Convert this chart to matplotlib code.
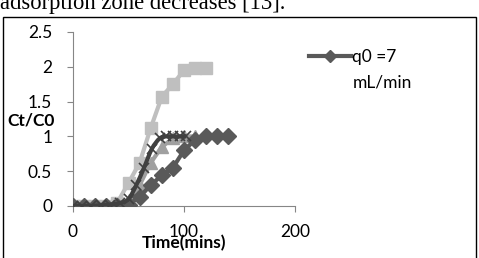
import matplotlib.pyplot as plt
import numpy as np
from matplotlib.patches import Rectangle, PathPatch
from matplotlib.path import Path

# series
t_diamond = [0, 10, 20, 30, 40, 50, 60, 70, 80, 90, 100, 110, 120, 130, 140]
c_diamond = [0, 0, 0, 0, 0, 0.02, 0.13, 0.3, 0.44, 0.55, 0.8, 0.95, 1.0, 1.0, 1.0]

t_square = [0, 10, 20, 30, 40, 50, 60, 70, 80, 90, 100, 110, 120]
c_square = [0, 0, 0, 0, 0.05, 0.33, 0.62, 1.12, 1.57, 1.75, 1.95, 1.98, 1.98]

t_tri = [0, 10, 20, 30, 40, 50, 60, 70, 80, 90, 100, 110]
c_tri = [0, 0, 0, 0, 0.02, 0.08, 0.3, 0.62, 0.85, 0.97, 1.0, 1.0]

t_x = [0, 8, 16, 25, 33, 42, 50, 57, 64, 71, 78, 84, 90, 96, 102]
c_x = [0, 0, 0, 0.01, 0.02, 0.04, 0.1, 0.3, 0.55, 0.82, 0.97, 1.0, 1.0, 1.0, 1.0]

legend_label = "q0 =7"
legend_unit = "mL/min"
xticks = [0, 100, 200]
yticks = [0, 0.5, 1, 1.5, 2, 2.5]

plt.rcParams["font.family"] = ["Lato", "DejaVu Sans"]
FS = 12.5

fig = plt.figure(figsize=(4.79, 2.58), dpi=100)

# page text and chart frame
fig.text(0.0, 1 - 9.5 / 258, "adsorption zone decreases [13].",
         family="Liberation Serif", fontsize=16.3, va="baseline", ha="left")
fig.patches.append(Rectangle((3 / 479, -0.1), 473 / 479, 1.1 - 16.5 / 258,
                             transform=fig.transFigure, fill=False,
                             edgecolor="black", lw=1.0))

ax = fig.add_axes([73 / 479, 1 - 206 / 258, 222 / 479, 174 / 258])

ax.plot(t_diamond, c_diamond, color="#595959", lw=3, marker="D", ms=8,
        label=legend_label, zorder=3)
ax.plot(t_square, c_square, color="#bfbfbf", lw=3, marker="s", ms=9,
        zorder=2)
ax.plot(t_tri, c_tri, color="#a0a0a0", lw=3, marker="^", ms=9, zorder=2.5)
ax.plot(t_x, c_x, ls="none", color="#404040", marker="x", ms=7, mew=1.2,
        zorder=4)


def smooth_path(x, y, tension=1 / 6):
    # Catmull-Rom style bezier through the points (like a smoothed line)
    x = np.asarray(x, float)
    y = np.asarray(y, float)
    verts = [(x[0], y[0])]
    codes = [Path.MOVETO]
    n = len(x)
    for i in range(n - 1):
        i0, i3 = max(i - 1, 0), min(i + 2, n - 1)
        c1 = (x[i] + (x[i + 1] - x[i0]) * tension, y[i] + (y[i + 1] - y[i0]) * tension)
        c2 = (x[i + 1] - (x[i3] - x[i]) * tension, y[i + 1] - (y[i3] - y[i]) * tension)
        verts += [c1, c2, (x[i + 1], y[i + 1])]
        codes += [Path.CURVE4] * 3
    return Path(verts, codes)


ax.add_patch(PathPatch(smooth_path(t_x, c_x), fill=False, edgecolor="#404040",
                       lw=3, zorder=4))

ax.set_xlim(0, 200)
ax.set_ylim(0, 2.5)
ax.set_xticks(xticks)
ax.set_yticks(yticks)
ax.set_yticklabels(["0", "0.5", "1", "1.5", "2", "2.5"])

for s in ["top", "right"]:
    ax.spines[s].set_visible(False)
for s in ["left", "bottom"]:
    ax.spines[s].set_color("#868686")
    ax.spines[s].set_linewidth(0.8)

ax.tick_params(axis="y", direction="out", length=4, width=0.8, color="#868686",
               pad=11, labelsize=FS)
ax.tick_params(axis="x", direction="out", length=4, width=0.8, color="#868686",
               pad=9, labelsize=FS)

ax.set_xlabel("Time(mins)", fontweight="bold", fontsize=FS, labelpad=-4)
ax.set_ylabel("Ct/C0", fontweight="bold", fontsize=FS, rotation=0,
              ha="right", va="center")
ax.yaxis.set_label_coords(-0.08, 0.49)

leg = ax.legend(loc="center left", bbox_to_anchor=(309 / 479, 1 - 57 / 258),
                bbox_transform=fig.transFigure, frameon=False, fontsize=FS,
                handlelength=2.4, handletextpad=0.08, borderaxespad=0,
                borderpad=0, markerscale=0.8)
fig.text(353 / 479, 1 - 82 / 258, legend_unit, fontsize=FS, va="center",
         ha="left")

fig.savefig("out.png", dpi=100)
